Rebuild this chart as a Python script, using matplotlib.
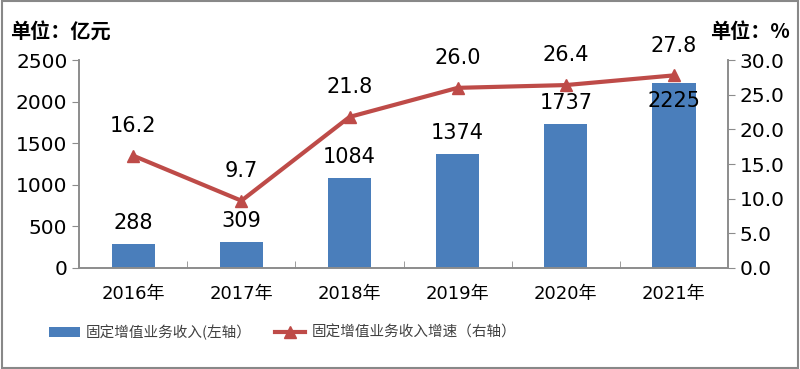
import matplotlib
matplotlib.use("Agg")
import matplotlib.pyplot as plt
from matplotlib.patches import Rectangle

plt.rcParams['font.family'] = ['Noto Sans CJK SC', 'DejaVu Sans']

years = ["2016年", "2017年", "2018年", "2019年", "2020年", "2021年"]
revenue = [288, 309, 1084, 1374, 1737, 2225]
growth = [16.2, 9.7, 21.8, 26.0, 26.4, 27.8]

BLUE = "#4a7ebb"
RED = "#be4b48"
GRAY = "#8c8c8c"
NUM_FONT = ['DejaVu Sans', 'Noto Sans CJK SC']

fig = plt.figure(figsize=(8, 3.69), dpi=100)
ax = fig.add_axes([0.099, 0.274, 0.811, 0.563])
ax2 = ax.twinx()

x = list(range(len(years)))
ax.bar(x, revenue, width=0.4, color=BLUE, zorder=2)
ax.set_xlim(-0.5, len(years) - 0.5)
ax.set_ylim(0, 2500)
ax.set_yticks(range(0, 2501, 500))
ax.set_xticks(x)
ax.set_xticklabels(years, fontsize=13, family=NUM_FONT)
ax.set_xticks([i + 0.5 for i in x[:-1]], minor=True)
ax.tick_params(axis="x", which="major", length=0, pad=12)
ax.tick_params(axis="x", which="minor", length=5, color=GRAY, direction="in")
ax.tick_params(axis="y", labelsize=14.5, color=GRAY, length=5)
for t in ax.get_yticklabels():
    t.set_family(NUM_FONT)

for i, v in enumerate(revenue):
    off = -13 if i == len(revenue) - 1 else 15
    ax.annotate(str(v), (i, v), xytext=(0, off), textcoords="offset points",
                ha="center", va="center", fontsize=15, family="DejaVu Sans",
                zorder=5)

ax2.plot(x, growth, color=RED, lw=3, marker="^", ms=9, zorder=4)
ax2.set_ylim(0, 30)
ax2.set_yticks([0, 5, 10, 15, 20, 25, 30])
ax2.set_yticklabels([f"{t:.1f}" for t in [0, 5, 10, 15, 20, 25, 30]], family=NUM_FONT)
ax2.tick_params(axis="y", labelsize=14.5, color=GRAY, length=5)
for i, v in enumerate(growth):
    ax2.annotate(f"{v:.1f}", (i, v), xytext=(0, 21.5), textcoords="offset points",
                 ha="center", va="center", fontsize=15, family="DejaVu Sans")

for a in (ax, ax2):
    a.spines["top"].set_visible(False)
    for s in ("left", "right", "bottom"):
        a.spines[s].set_color(GRAY)
        a.spines[s].set_linewidth(1.2)

fig.text(0.012, 0.915, "单位：亿元", fontsize=14.5, fontweight="bold", ha="left", va="center")
fig.text(0.987, 0.915, "单位：%", fontsize=14.5, fontweight="bold", ha="right", va="center")

h1 = ax.bar([0], [0], color=BLUE, label="固定增值业务收入(左轴）")
h2, = ax2.plot([], [], color=RED, lw=3, marker="^", ms=9, label="固定增值业务收入增速（右轴）")
fig.legend(handles=[h1, h2], loc="center left", bbox_to_anchor=(0.045, 0.1), ncol=2,
           frameon=False, fontsize=10.5, handlelength=2.1, handletextpad=0.4,
           columnspacing=1.6, labelcolor="#404040")

fig.patches.append(Rectangle((0.002, 0.003), 0.996, 0.994, transform=fig.transFigure,
                             fill=False, edgecolor="#888888", lw=1.5))

fig.savefig("out.png", dpi=100)
